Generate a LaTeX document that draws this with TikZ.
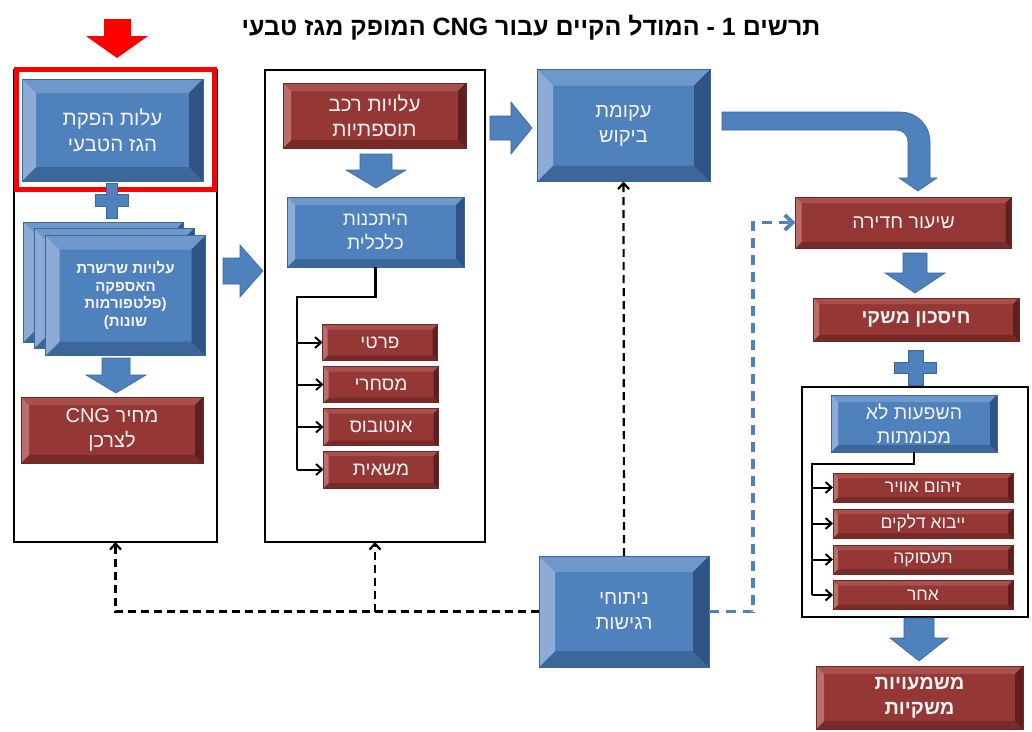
\documentclass[tikz,border=0pt]{standalone}
\usepackage{fontspec}
\setmainfont{Liberation Sans}[Script=Hebrew]
\TeXXeTstate=1
\usetikzlibrary{arrows.meta,calc}
\newcommand{\heb}[1]{\beginR #1\endR}
\definecolor{bxM}{HTML}{4F81BD}
\definecolor{bxT}{HTML}{6E98CB}
\definecolor{bxL}{HTML}{8CACD7}
\definecolor{bxR}{HTML}{2E5384}
\definecolor{bxB}{HTML}{3C679B}
\definecolor{bxE}{HTML}{3A679E}
\definecolor{rxM}{HTML}{953735}
\definecolor{rxT}{HTML}{A8504E}
\definecolor{rxL}{HTML}{BA6E6C}
\definecolor{rxR}{HTML}{5E1F1E}
\definecolor{rxB}{HTML}{772A28}
\definecolor{rxE}{HTML}{6E2826}
\definecolor{txt}{HTML}{F4F4F4}
\definecolor{hlred}{HTML}{FF0000}
\newcommand{\bdown}[6]{\fill[bxM,draw=bxE,line width=0.6pt] ({#1-#5},#2) -- ({#1+#5},#2) -- ({#1+#5},#3) -- ({#1+#6},#3) -- (#1,#4) -- ({#1-#6},#3) -- ({#1-#5},#3) -- cycle;}
\newcommand{\bright}[6]{\fill[bxM,draw=bxE,line width=0.6pt] (#2,{#1-#5}) -- (#3,{#1-#5}) -- (#3,{#1-#6}) -- (#4,#1) -- (#3,{#1+#6}) -- (#3,{#1+#5}) -- (#2,{#1+#5}) -- cycle;}
\newcommand{\bplus}[6]{\fill[bxM,draw=bxE,line width=0.6pt] ({#1-#3},{#2-#4}) -- ({#1+#3},{#2-#4}) -- ({#1+#3},{#2-#6}) -- ({#1+#5},{#2-#6}) -- ({#1+#5},{#2+#6}) -- ({#1+#3},{#2+#6}) -- ({#1+#3},{#2+#4}) -- ({#1-#3},{#2+#4}) -- ({#1-#3},{#2+#6}) -- ({#1-#5},{#2+#6}) -- ({#1-#5},{#2-#6}) -- ({#1-#3},{#2-#6}) -- cycle;}
\tikzset{
  bevw/.store in=\bevw, bevw=8pt,
  bevc/.store in=\bevc, bevc=bx,
  bevel/.style={shape=rectangle, fill=\bevc M, draw=\bevc E, line width=0.6pt,
    outer sep=0pt, inner sep=2pt, text=txt, align=center,
    path picture={
      \path[fill={\bevc T}] (path picture bounding box.north west) -- (path picture bounding box.north east) -- ([xshift=-\bevw,yshift=-\bevw]path picture bounding box.north east) -- ([xshift=\bevw,yshift=-\bevw]path picture bounding box.north west) -- cycle;
      \path[fill={\bevc B}] (path picture bounding box.south west) -- (path picture bounding box.south east) -- ([xshift=-\bevw,yshift=\bevw]path picture bounding box.south east) -- ([xshift=\bevw,yshift=\bevw]path picture bounding box.south west) -- cycle;
      \path[fill={\bevc L}] (path picture bounding box.north west) -- ([xshift=\bevw,yshift=-\bevw]path picture bounding box.north west) -- ([xshift=\bevw,yshift=\bevw]path picture bounding box.south west) -- (path picture bounding box.south west) -- cycle;
      \path[fill={\bevc R}] (path picture bounding box.north east) -- ([xshift=-\bevw,yshift=-\bevw]path picture bounding box.north east) -- ([xshift=-\bevw,yshift=\bevw]path picture bounding box.south east) -- (path picture bounding box.south east) -- cycle;
    }},
  bluebox/.style={bevc=bx, bevel},
  redbox/.style={bevc=rx, bevel},
  fs/.style 2 args={font=\fontsize{#1}{#2}\selectfont},
  fsb/.style 2 args={font=\bfseries\fontsize{#1}{#2}\selectfont},
  frame/.style={draw=black, line width=1.6pt, fill=white, outer sep=0pt, inner sep=0pt},
  trunk/.style={draw=black, line width=2.6pt},
  branch/.style={draw=black, line width=2pt, -{Straight Barb[length=6pt,width=11pt]}},
  blackdash/.style={draw=black, line width=2.2pt, dash pattern=on 8pt off 5pt, -{Straight Barb[length=6pt,width=11pt]}},
  bluedash/.style={draw=bxM, line width=3.8pt, dash pattern=on 10pt off 7pt, -{Straight Barb[length=8pt,width=15pt]}},
}
\begin{document}
\begin{tikzpicture}[x=1pt,y=-1pt]
\useasboundingbox (0,0) rectangle (1032,731);
\fill[white] (0,0) rectangle (1032,731);

% title and red marker arrow
\node[fsb={25}{29}] (title) at (531,28) {\heb{תרשים 1 - המודל הקיים עבור \beginL CNG\endL{} המופק מגז טבעי}};
\fill[hlred] (104,19) -- (131,19) -- (131,36) -- (148,36) -- (117,58) -- (86,36) -- (104,36) -- cycle;

% containers
\node[frame, minimum width=203, minimum height=472] (leftbox) at (115.5,306) {};
\node[frame, minimum width=220, minimum height=472] (midbox) at (375,306) {};
\node[frame, minimum width=226, minimum height=230] (rightbox) at (915,502) {};
\node[draw=hlred, line width=5pt, minimum width=198, minimum height=120, inner sep=0pt] (hl) at (115.5,129) {};

% left column
\node[bluebox, bevw=14pt, fs={20.5}{26}, minimum width=181, minimum height=102] (prod) at (112.5,130) {\heb{עלות הפקת}\\\heb{הגז הטבעי}};
\bplus{112}{200.5}{5.5}{17.5}{16.5}{6}
\node[bluebox, bevw=14pt, minimum width=160, minimum height=120] (chain3) at (103.5,282) {};
\node[bluebox, bevw=14pt, minimum width=160, minimum height=120] (chain2) at (114,288.5) {};
\node[bluebox, bevw=14pt, minimum width=160, minimum height=120, fsb={15}{17.5}] (chain) at (125.5,295.5) {\heb{עלויות שרשרת}\\\heb{האספקה}\\\heb{(פלטפורמות}\\\heb{שונות)}};
\bdown{116}{358}{375}{393}{14}{30}
\node[redbox, bevw=8pt, fs={20}{25}, minimum width=182, minimum height=66] (price) at (112,430) {\heb{מחיר \beginL CNG\endL}\\\heb{לצרכן}};

% left -> middle
\bright{271}{223}{240}{263}{13}{26}

% middle column
\node[redbox, bevw=8pt, fs={20.5}{25}, minimum width=183, minimum height=65] (addcost) at (374.5,115.5) {\heb{עלויות רכב}\\\heb{תוספתיות}};
\bdown{376}{154}{170}{188}{16}{30}
\node[bluebox, bevw=8pt, fs={19}{24}, minimum width=177, minimum height=70] (feas) at (375.5,232) {\heb{היתכנות}\\\heb{כלכלית}};
\node[redbox, bevw=5pt, fs={19}{22}, minimum width=115, minimum height=36] (v1) at (380,342.5) {\heb{פרטי}};
\node[redbox, bevw=5pt, fs={19}{22}, minimum width=115, minimum height=36] (v2) at (381,384.5) {\heb{מסחרי}};
\node[redbox, bevw=5pt, fs={19}{22}, minimum width=115, minimum height=37] (v3) at (381,427) {\heb{אוטובוס}};
\node[redbox, bevw=5pt, fs={19}{22}, minimum width=115, minimum height=37] (v4) at (381,469.5) {\heb{משאית}};
\coordinate (tm) at (297,297);
\draw[trunk] (feas.south) |- (tm) -- (tm |- v4.west);
\foreach \v in {v1,v2,v3,v4} {\draw[branch] (tm |- \v.west) -- (\v.west);}

% middle -> demand
\bright{128}{490}{511}{532}{12}{26}
\node[bluebox, bevw=16pt, fs={20}{25}, minimum width=173, minimum height=112] (demand) at (623.5,125.5) {\heb{עקומת}\\\heb{ביקוש}};
\fill[bxM, draw=bxE, line width=0.6pt] (722,112) -- (900,112) .. controls (917,112) and (930,125) .. (930,142) -- (930,178) -- (937,178) -- (918,191) -- (899,178) -- (908,178) -- (908,142) .. controls (908,135) and (903,130) .. (896,130) -- (722,130) -- cycle;

% sensitivity
\node[bluebox, bevw=16pt, fs={20}{25}, minimum width=170, minimum height=111] (sens) at (624,611.5) {\heb{ניתוחי}\\\heb{רגישות}};

% right column
\node[redbox, bevw=6pt, fs={19.5}{23}, minimum width=216, minimum height=51] (shiur) at (903.5,222.5) {\heb{שיעור חדירה}};
\bdown{915}{253}{273}{293}{12}{30}
\node[redbox, bevw=6pt, fsb={19.5}{23}, minimum width=206, minimum height=43] (saving) at (916,319.5) {\heb{חיסכון משקי}};
\bplus{915.5}{367.5}{7.5}{17.5}{21}{5.5}
\node[bluebox, bevw=7pt, fs={19.5}{24}, minimum width=166, minimum height=57] (nonq) at (914,423.5) {\heb{השפעות לא}\\\heb{מכומתות}};
\node[redbox, bevw=5pt, fs={17.5}{20}, minimum width=180, minimum height=29] (e1) at (923,487.5) {\heb{זיהום אוויר}};
\node[redbox, bevw=5pt, fs={17.5}{20}, minimum width=180, minimum height=29] (e2) at (923,523.5) {\heb{ייבוא דלקים}};
\node[redbox, bevw=5pt, fs={17.5}{20}, minimum width=180, minimum height=29] (e3) at (923,559.5) {\heb{תעסוקה}};
\node[redbox, bevw=5pt, fs={17.5}{20}, minimum width=180, minimum height=29] (e4) at (923,595) {\heb{אחר}};
\coordinate (tr) at (812,464);
\draw[trunk] (nonq.south) |- (tr) -- (tr |- e4.west);
\foreach \e in {e1,e2,e3,e4} {\draw[branch] (tr |- \e.west) -- (\e.west);}
\bdown{919}{618}{638}{661}{15}{29}
\node[redbox, bevw=8pt, fsb={20}{25}, minimum width=207, minimum height=63] (mash) at (919.5,697.5) {\heb{משמעויות}\\\heb{משקיות}};

% dashed connectors
\draw[blackdash] (sens.west) -| (leftbox.south);
\draw[blackdash] (sens.west -| midbox.south) -- (midbox.south);
\draw[blackdash] (sens.north) -- (demand.south);
\coordinate (bj) at (753,611.5);
\draw[bluedash] (sens.east) -- (bj) |- (shiur.west);
\end{tikzpicture}
\end{document}
